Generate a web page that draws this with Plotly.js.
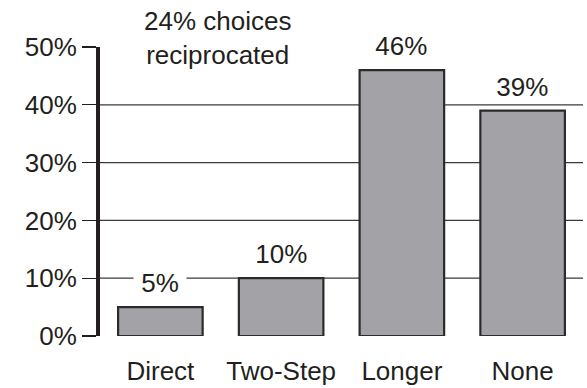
<!DOCTYPE html>
<html>
<head>
<meta charset="utf-8">
<script src="https://cdn.plot.ly/plotly-3.0.1.min.js"></script>
<style>
  html, body { margin: 0; padding: 0; background: #fff; }
  #chart { width: 587px; height: 388px; }
</style>
</head>
<body>
<div id="chart"></div>
<script>
// Path length between reciprocated choices
const categories = ['Direct', 'Two-Step', 'Longer', 'None'];
const shares = [5, 10, 46, 39];            // percent of choices
const yTicks = [0, 10, 20, 30, 40, 50];
const yTickLabels = ['0%', '10%', '20%', '30%', '40%', '50%'];
const headline = '24% choices<br>reciprocated';

const ink = '#231f20';
const font = { family: 'Liberation Sans, Arial, sans-serif', size: 26, color: ink };

const bars = {
  type: 'bar',
  x: categories,
  y: shares,
  marker: { color: '#a3a2a7', line: { color: '#2b2b2b', width: 2.2 } },
  hoverinfo: 'skip'
};

// value labels sit on a white box so they cut through the gridlines
const valueLabels = categories.map((c, i) => ({
  x: c, y: shares[i], xref: 'x', yref: 'y',
  text: '\u00a0' + shares[i] + '%\u00a0',
  showarrow: false,
  yanchor: 'bottom',
  yshift: 8,
  bgcolor: '#ffffff',
  borderpad: 0,
  font: font
}));

const layout = {
  width: 587,
  height: 388,
  margin: { l: 100, r: 4, t: 47, b: 52 },
  paper_bgcolor: '#ffffff',
  plot_bgcolor: '#ffffff',
  showlegend: false,
  bargap: 0.3,
  font: font,
  xaxis: {
    type: 'category',
    showline: false,
    showgrid: false,
    zeroline: false,
    ticks: '',
    ticklabelstandoff: 17,
    tickfont: font,
    fixedrange: true
  },
  yaxis: {
    range: [0, 50],
    tickvals: yTicks,
    ticktext: yTickLabels,
    ticks: 'outside',
    ticklen: 14,
    tickwidth: 1.2,
    tickcolor: ink,
    ticklabelstandoff: 0,
    tickfont: font,
    showline: true,
    linecolor: ink,
    linewidth: 4,
    showgrid: false,
    zeroline: false,
    fixedrange: true
  },
  // gridlines for the interior ticks only
  shapes: yTicks.filter(v => v > 0 && v < 50).map(v => ({
    type: 'line', xref: 'paper', yref: 'y',
    x0: 0, x1: 1, y0: v, y1: v,
    line: { color: '#3a3a3a', width: 1.2 },
    layer: 'below'
  })),
  annotations: valueLabels.concat([{
    xref: 'paper', yref: 'paper',
    x: 0.244, y: 1.032,
    xanchor: 'center', yanchor: 'middle',
    text: headline,
    showarrow: false,
    font: font
  }])
};

Plotly.newPlot('chart', [bars], layout, { displayModeBar: false, staticPlot: true });
</script>
</body>
</html>
